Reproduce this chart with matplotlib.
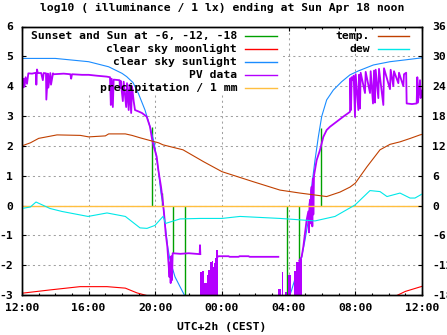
import numpy as np
import matplotlib
matplotlib.use("Agg")
import matplotlib.pyplot as plt
from matplotlib.lines import Line2D
from matplotlib.patches import Rectangle

nan = np.nan
# time axis: hours after 12:00 (Sat) up to 12:00 (Sun)
xtick_hours = [0, 4, 8, 12, 16, 20, 24]
xtick_labels = ["12:00", "16:00", "20:00", "00:00", "04:00", "08:00", "12:00"]

# clear sky sunlight (log10 lux)
sun_t = [0.0, 2.0, 4.0, 5.2, 6.0, 6.28, 6.66, 6.98, 7.38, 7.68, 7.94, 8.18, 8.34, 8.48, 8.58,
         8.74, 8.88, 9.18, 9.48, 9.74, 10.0, nan,
         15.9, 16.18, 16.48, 16.78, 16.98, 17.18, 17.28, 17.38, 17.58, 17.78, 17.98, 18.28,
         18.68, 19.18, 19.68, 20.18, 21.08, 22.08, 22.98, 24.0]
sun_v = [4.93, 4.93, 4.82, 4.65, 4.43, 4.32, 4.12, 3.76, 3.20, 2.64, 2.08, 1.19, 0.41, -0.04, -0.60,
         -1.38, -1.83, -2.39, -2.72, -3.00, -3.30, nan,
         -3.30, -2.83, -2.27, -1.72, -1.16, -0.50, 0.02, 0.63, 1.52, 2.30, 2.98, 3.54,
         3.87, 4.15, 4.38, 4.51, 4.71, 4.82, 4.88, 4.95]

# clear sky moonlight
moon_t = [0.0, 1.68, 3.48, 5.1, 6.2, 6.9, 7.5, nan, 22.48, 23.0, 23.88, 24.0]
moon_v = [-2.94, -2.83, -2.72, -2.72, -2.77, -2.93, -3.02, nan, -3.02, -2.88, -2.73, -2.71]

# PV data (log10 lux)
pv_t = [0.00, 0.05, 0.10, 0.15, 0.22, 0.30, 0.38, 0.60, 0.84, 0.86, 0.90, 0.95, 1.15, 1.25, 1.30,
        1.44, 1.46, 1.55, 1.58, 1.70, 1.74, 1.86, 1.90, 2.50, 2.90, 2.95, 3.00, 3.60, 4.00, 4.50,
        5.08, 5.28, 5.33, 5.38, 5.45, 5.50, 5.85, 5.88, 5.92, 6.05, 6.10, 6.25, 6.30, 6.40, 6.45,
        6.55, 6.60, 6.70, 6.78, 7.00, 7.20, 7.48, 7.68, 7.78, 7.88, 8.08, 8.18, 8.34, 8.44, 8.54,
        8.62, 8.72, 8.78, 8.85, 8.88, 8.92, 8.96, 9.00, 9.04, 9.50, 10.00, 10.40, 10.66, 10.68,
        10.70, nan,
        11.74, 11.80, 12.40, 12.45, 13.00, 13.05, 13.60, 13.65, 15.38, nan,
        16.64, 16.78, 16.88, 16.98, 17.08, 17.18, 17.22, 17.25, 17.28, 17.32, 17.35, 17.38, 17.42,
        17.45, 17.48, 17.52, 17.58, 17.68, 17.88, 17.98, 18.08, 18.28, 18.48, 18.88, 19.28, 19.68,
        19.70, 19.74, 19.78, 19.85, 19.90, 19.98, 20.02, 20.18, 20.22, 20.28, 20.32, 20.58, 20.62,
        20.88, 20.92, 21.06, 21.12, 21.18, 21.22, 21.38, 21.42, 21.68, 21.72, 22.08, 22.12, 22.28,
        22.32, 22.58, 22.62, 22.88, 22.92, 23.05, 23.08, 23.40, 23.68, 23.72, 23.76, 23.88, 23.92,
        24.00]
pv_v = [4.20, 3.95, 4.25, 3.98, 4.30, 4.08, 4.43, 4.42, 4.45, 4.05, 4.56, 4.44, 4.44, 4.20, 4.44,
        4.43, 3.55, 4.42, 3.95, 4.44, 4.05, 4.43, 4.40, 4.42, 4.40, 4.25, 4.40, 4.38, 4.38, 4.35,
        4.32, 4.30, 3.37, 4.25, 3.30, 4.22, 4.20, 3.93, 4.18, 3.50, 4.15, 3.30, 4.10, 3.20, 4.05,
        3.10, 4.00, 3.50, 3.20, 3.15, 3.10, 2.98, 2.64, 2.30, 2.03, 1.64, 1.19, 0.63, 0.19, -0.37,
        -0.93, -1.38, -1.83, -2.40, -1.90, -2.60, -1.70, -2.50, -1.60, -1.62, -1.60, -1.62, -1.63, -1.33,
        -1.63, nan,
        -1.72, -1.70, -1.70, -1.72, -1.72, -1.70, -1.70, -1.72, -1.72, nan,
        -1.85, -1.72, -1.38, -0.93, -0.48, -0.20, -0.90, 0.00, 0.19, -0.60, 0.50, 0.63, -0.70,
        0.90, -0.30, 1.00, 1.19, 1.52, 1.86, 2.08, 2.30, 2.53, 2.64, 2.81, 2.98, 3.14,
        4.26, 3.20, 4.30, 4.20, 4.35, 2.97, 4.40, 3.20, 4.38, 3.25, 4.45, 3.77, 4.48,
        3.77, 4.50, 3.42, 4.52, 3.45, 4.55, 3.60, 4.58, 3.37, 4.60, 3.90, 4.55, 4.00,
        4.50, 4.10, 4.45, 4.00, 4.40, 4.45, 3.42, 3.40, 3.42, 4.30, 3.45, 4.20, 3.60,
        3.85]

# PV data at night: dense readings drawn as a filled band (top values, step-wise)
pv_band_t = [10.68, 10.78, 10.92, 11.08, 11.18, 11.28, 11.38, 11.44, 11.52, 11.58, 11.64, 11.74,
             15.38, 15.52, 15.58, 15.68, 15.78, 15.88, 15.96, 16.12, 16.32, 16.44, 16.64, 16.78]
pv_band_top = [-2.22, -2.18, -2.60, -2.33, -2.16, -1.88, -1.85, -2.05, -1.94, -1.77, -1.50, -3.5,
               -2.80, -3.5, -2.22, -3.5, -2.90, -3.5, -2.33, -3.5, -2.20, -1.90, -1.80, -3.5]

# precipitation / 1 mm
prec_t = [0.0, 24.0]
prec_v = [0.0, 0.0]

# Sunset and sun at -6, -12, -18 degrees (impulses from 0 to PV value)
sunev_t = [7.78, 8.38, 9.04, 9.80, 15.93, 16.64, 17.25, 17.96]
sunev_v = [2.62, 0.42, -1.60, -3.5, -3.5, -2.05, 0.10, 2.59]

# temperature and dew point (deg C, right axis)
temp_t = [0.0, 0.5, 1.0, 2.1, 3.5, 4.0, 5.0, 5.2, 6.2, 6.6, 7.1, 8.2, 8.46, 9.66, 10.9, 12.0,
          13.86, 15.48, 16.68, 17.6, 18.28, 19.08, 19.68, 20.0, 20.7, 21.48, 22.08, 22.68, 23.3,
          23.88, 24.0]
temp_v = [12.0, 12.6, 13.5, 14.2, 14.1, 13.8, 14.0, 14.4, 14.4, 14.1, 13.6, 12.6, 12.2, 11.2, 8.8,
          6.8, 4.8, 3.1, 2.5, 2.1, 1.8, 2.7, 3.7, 4.5, 7.8, 11.2, 12.3, 12.8, 13.5,
          14.2, 14.3]
dew_t = [0.0, 0.5, 0.84, 1.68, 2.4, 3.96, 5.1, 6.2, 7.08, 7.5, 7.98, 8.46, 8.62, 9.48, 10.68,
         12.0, 13.08, 15.48, 17.58, 18.78, 19.98, 20.88, 21.48, 21.9, 22.68, 23.28, 23.58, 24.0]
dew_v = [-0.6, -0.3, 0.7, -0.6, -1.2, -2.2, -1.5, -2.2, -4.5, -4.6, -4.0, -2.2, -3.6, -2.7, -2.6,
         -2.6, -2.2, -2.6, -3.1, -2.2, 0.1, 3.0, 2.8, 1.8, 2.5, 1.5, 1.5, 2.3]

C_GREEN = "#00a000"
C_RED = "#ff0000"
C_BLUE = "#1a8cff"
C_PURPLE = "#b400ff"
C_ORANGE = "#ffbf40"
C_BROWN = "#c04000"
C_CYAN = "#00e8e8"

FONT = dict(family="DejaVu Sans Mono", weight="bold", size=8.2)

W, H = 447, 335
fig = plt.figure(figsize=(W / 100, H / 100), dpi=100)
L, R, T, B = 22, 422, 26.5, 295
ax = fig.add_axes([L / W, 1 - B / H, (R - L) / W, (B - T) / H])
ax.set_xlim(0, 24)
ax.set_ylim(-3, 6)
ax.set_axisbelow(True)
ax.grid(True, color="#a0a0a0", linestyle=(0, (2, 3)), linewidth=0.75)

# opaque key box hides the grid behind the left key column
ax.add_patch(Rectangle((5 / 400, (B - 94) / (B - T)), (283 - 27) / 400, 1.0,
                       transform=ax.transAxes, facecolor="white", edgecolor="none", zorder=1))

lw = 0.8
ax.vlines(sunev_t, 0, sunev_v, color=C_GREEN, linewidth=1.0, zorder=2)
ax.plot(moon_t, moon_v, color=C_RED, linewidth=lw, zorder=2)
ax.plot(sun_t, sun_v, color=C_BLUE, linewidth=lw, zorder=2)
ax.plot(pv_t, pv_v, color=C_PURPLE, linewidth=1.3, zorder=2)
ax.fill_between(pv_band_t, -3.5, pv_band_top, step="post", color=C_PURPLE, linewidth=0, zorder=2)
ax.plot(prec_t, prec_v, color=C_ORANGE, linewidth=1.0, zorder=2)

ax2 = ax.twinx()
ax2.set_ylim(-18, 36)
ax2.plot(temp_t, temp_v, color=C_BROWN, linewidth=lw)
ax2.plot(dew_t, dew_v, color=C_CYAN, linewidth=lw)

ax.set_xticks(xtick_hours)
ax.set_xticklabels(xtick_labels, **FONT)
ax.set_xticks(np.arange(0, 25, 1), minor=True)
ax.set_yticks(np.arange(-3, 7, 1))
ax.set_yticklabels([str(v) for v in range(-3, 7)], **FONT)
ax2.set_yticks(np.arange(-18, 37, 6))
ax2.set_yticklabels([str(v) for v in range(-18, 37, 6)], **FONT)
ax.tick_params(axis="x", which="major", direction="in", length=3, width=0.8, top=True, pad=5.5)
ax.tick_params(axis="x", which="minor", direction="in", length=1.6, width=0.8, top=True)
ax.tick_params(axis="y", direction="in", length=3, width=0.8, right=False, pad=6.5)
ax2.tick_params(axis="y", direction="in", length=3, width=0.8, pad=7.5)
for a in (ax, ax2):
    for s in a.spines.values():
        s.set_linewidth(1.0)
        s.set_color("black")

fig.text(0.5 * (L + R) / W, 1 - 8 / H, "log10 ( illuminance / 1 lx) ending at Sun Apr 18 noon",
         ha="center", va="center", **FONT)
fig.text(0.5 * (L + R) / W, 1 - 326.5 / H, "UTC+2h (CEST)", ha="center", va="center", **FONT)

# key (left column: right-aligned labels with samples to the right)
left_items = [("Sunset and Sun at -6, -12, -18", C_GREEN), ("clear sky moonlight", C_RED),
              ("clear sky sunlight", C_BLUE), ("PV data", C_PURPLE),
              ("precipitation / 1 mm", C_ORANGE)]
right_items = [("temp.", C_BROWN), ("dew", C_CYAN)]
rows = [36.3, 49.3, 62.3, 75.3, 88.3]
for (lab, col), yp in zip(left_items, rows):
    fig.text(237 / W, 1 - yp / H, lab, ha="right", va="center", zorder=5, **FONT)
    fig.add_artist(Line2D([245 / W, 277 / W], [1 - yp / H, 1 - yp / H], color=col, linewidth=1.0))
for (lab, col), yp in zip(right_items, rows):
    fig.text(370 / W, 1 - yp / H, lab, ha="right", va="center", zorder=5, **FONT)
    fig.add_artist(Line2D([378 / W, 409 / W], [1 - yp / H, 1 - yp / H], color=col, linewidth=1.0))

fig.savefig("out.png", dpi=100)
